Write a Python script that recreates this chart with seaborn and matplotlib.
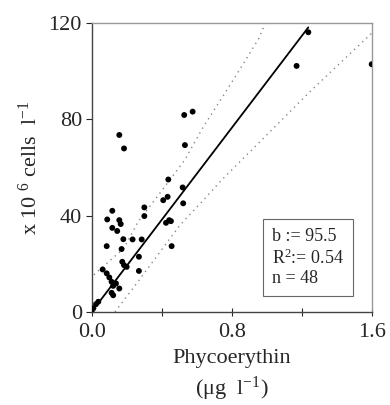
import numpy as np
import pandas as pd
import matplotlib
matplotlib.use('Agg')
import matplotlib.pyplot as plt
import seaborn as sns

# Data (phycoerythin ug/l vs cells x10^6 /l)
pe = [0.000, 0.010, 0.025, 0.038, 0.063, 0.086, 0.101, 0.114, 0.123, 0.114,
      0.123, 0.139, 0.158, 0.086, 0.089, 0.118, 0.118, 0.146, 0.158, 0.166,
      0.171, 0.181, 0.175, 0.185, 0.200, 0.234, 0.270, 0.286, 0.301, 0.301,
      0.270, 0.409, 0.434, 0.438, 0.425, 0.443, 0.453, 0.457, 0.520, 0.523,
      0.529, 0.533, 0.577, 0.158, 0.185, 1.171, 1.238, 1.600]
cells = [0.0, 1.5, 3.2, 4.2, 17.6, 16.0, 14.3, 12.5, 10.8, 7.9,
         6.9, 11.8, 9.7, 27.3, 38.4, 42.0, 34.9, 33.6, 38.1, 36.5,
         26.1, 30.2, 20.8, 19.4, 18.7, 30.1, 22.9, 30.1, 43.4, 39.8,
         17.0, 46.4, 47.8, 55.0, 37.0, 38.1, 37.7, 27.3, 51.7, 45.1,
         81.8, 69.3, 83.2, 73.5, 67.9, 102.2, 116.2, 102.9]

# regression (slope from the box, intercept ~0)
slope = 95.5
intercept = 0.0
fit_x = np.array([0.04, 1.238])

# dotted bands
upper_x = [0.013, 0.184, 0.265, 0.374, 0.531, 0.638, 0.767, 0.886, 0.956, 0.991]
upper_y = [15.4, 26.4, 37.4, 47.8, 63.0, 76.9, 91.5, 105.4, 113.7, 119.8]
lower_x = [0.133, 0.257, 0.504, 0.638, 0.752, 0.952, 1.143, 1.247, 1.600]
lower_y = [0.0, 11.8, 36.0, 46.4, 55.5, 70.0, 83.9, 91.5, 115.8]

stats_lines = ['b := 95.5', 'R$^2$:= 0.54', 'n = 48']

sns.set_style('ticks')
plt.rcParams['font.family'] = ['Liberation Serif', 'DejaVu Serif']
plt.rcParams['mathtext.fontset'] = 'custom'
plt.rcParams['mathtext.rm'] = 'Liberation Serif'
plt.rcParams['mathtext.it'] = 'Liberation Serif:italic'

fig = plt.figure(figsize=(3.9, 4.05), dpi=100)
ax = fig.add_axes([0.235, 0.230, 0.718, 0.713])

df = pd.DataFrame({'pe': pe, 'cells': cells})
sns.scatterplot(data=df, x='pe', y='cells', ax=ax, color='black', s=18,
                edgecolor='none', zorder=3)

ax.plot(fit_x, intercept + slope * fit_x, color='black', lw=1.3, zorder=2)
ax.plot(upper_x, upper_y, color='#888888', lw=1.0, ls=(0, (1, 3)), zorder=1)
ax.plot(lower_x, lower_y, color='#888888', lw=1.0, ls=(0, (1, 3)), zorder=1)

ax.set_xlim(0, 1.6)
ax.set_ylim(0, 120)
ax.set_xticks([0, 0.4, 0.8, 1.2, 1.6])
ax.set_xticklabels(['0.0', '', '0.8', '', '1.6'])
ax.set_yticks([0, 40, 80, 120])
ax.tick_params(axis='x', direction='inout', length=6, width=0.8, labelsize=16, pad=5)
ax.tick_params(axis='y', direction='out', length=4, width=0.8, labelsize=16, pad=3)

for side in ['top', 'right']:
    ax.spines[side].set_visible(True)
    ax.spines[side].set_color('#999999')
for side in ['left', 'bottom']:
    ax.spines[side].set_color('#444444')
for sp in ax.spines.values():
    sp.set_linewidth(1.0)

ax.set_xlabel('Phycoerythin\n(\u03bcg  l$^{-1}$)', fontsize=16, labelpad=5,
              linespacing=1.35)
ax.set_ylabel('x 10 $^{6}$ cells  l$^{-1}$', fontsize=16, labelpad=5)

ax.text(1.03, 22.5, '\n'.join(stats_lines), fontsize=13, va='center', ha='left',
        linespacing=1.2,
        bbox=dict(boxstyle='square,pad=0.5', facecolor='white',
                  edgecolor='#666666', linewidth=0.8))

fig.savefig('out.png', dpi=100)
